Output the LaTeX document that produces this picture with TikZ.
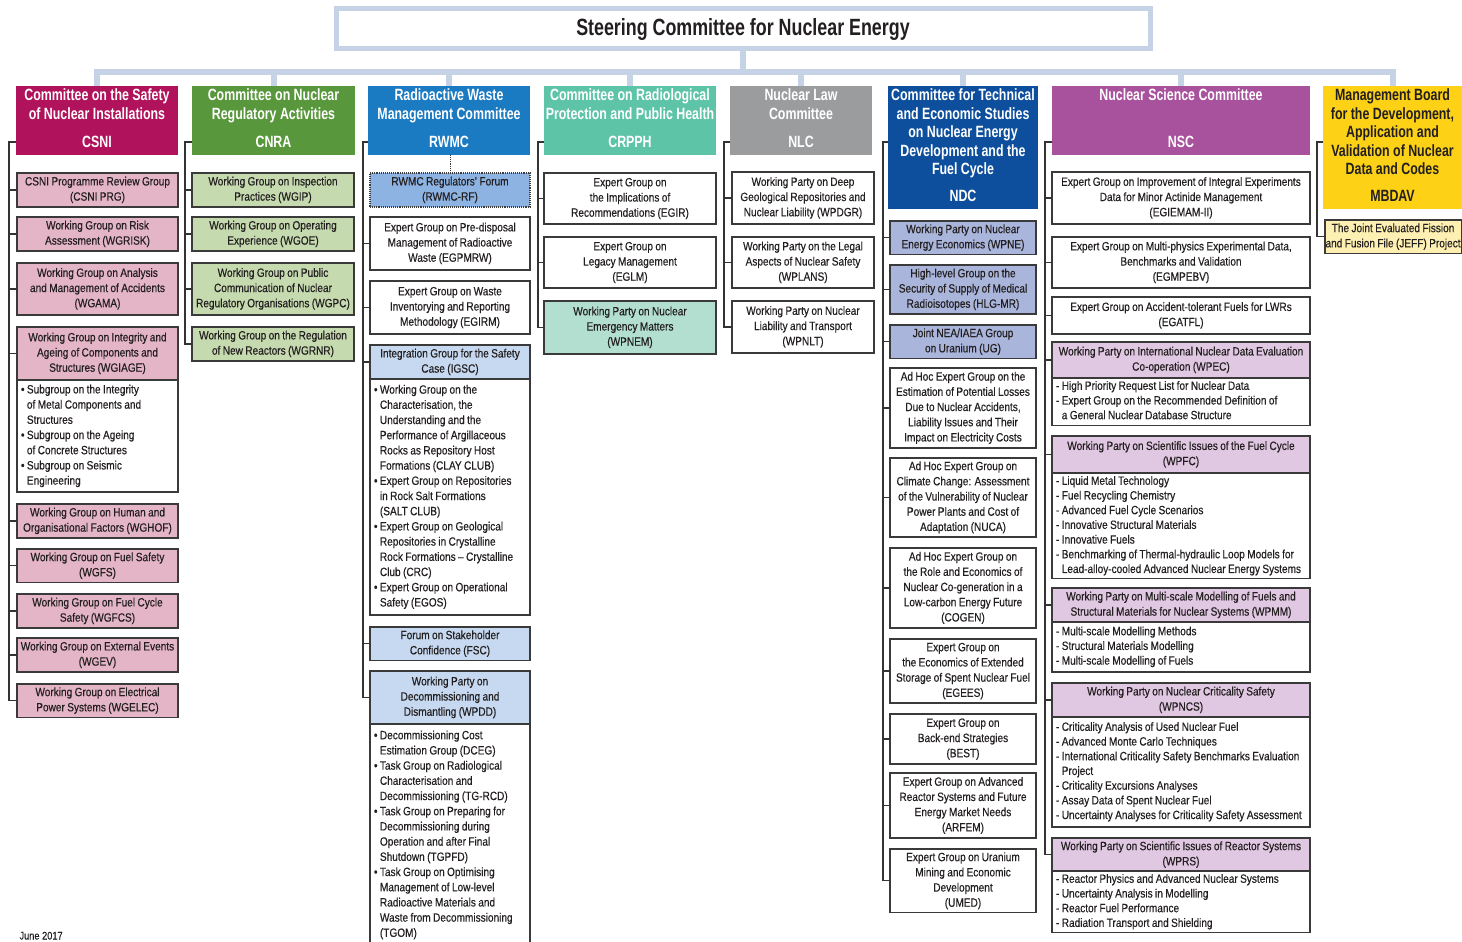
\documentclass[tikz,border=0pt]{standalone}
\usepackage{fontspec}
\setmainfont{Liberation Sans}[FakeStretch=0.84,UprightFeatures={FakeBold=0.35}]
\newfontfamily\hdfam{Liberation Sans}[FakeStretch=0.76]
\usetikzlibrary{calc}

\definecolor{ink}{HTML}{231F20}
\definecolor{boxline}{HTML}{3A3A3A}
\definecolor{connC}{HTML}{333333}
\definecolor{trunkC}{HTML}{C6D3E7}
\definecolor{csniC}{HTML}{B0135B}
\definecolor{csniL}{HTML}{E4B5C6}
\definecolor{cnraC}{HTML}{58973C}
\definecolor{cnraL}{HTML}{C6DAB0}
\definecolor{rwmcC}{HTML}{1A7AC2}
\definecolor{rwmcM}{HTML}{8DB3E2}
\definecolor{rwmcL}{HTML}{C6D9F0}
\definecolor{crpphC}{HTML}{5EC4A8}
\definecolor{crpphL}{HTML}{B3DFD1}
\definecolor{nlcC}{HTML}{9B9C9E}
\definecolor{ndcC}{HTML}{0D4F9D}
\definecolor{ndcL}{HTML}{A9B5DB}
\definecolor{nscC}{HTML}{A8519C}
\definecolor{nscL}{HTML}{E0C7E2}
\definecolor{mbC}{HTML}{FCD116}
\definecolor{mbL}{HTML}{FDF0B2}

% interword space used inside the boxes (set by each font command)
\newcommand\spk{2.4pt}
\newcommand\smtxt{\fontsize{12}{15.2}\selectfont\def\spk{2.4pt}}
\newcommand\nstxt{\fontsize{12}{14.7}\selectfont\def\spk{2.4pt}}
\newcommand\hdtxt{\hdfam\bfseries\fontsize{16.3}{18.5}\selectfont\def\spk{3.4pt}}
\newcommand\setspk{\spaceskip=\spk plus 1pt minus .5pt\relax}
\newcommand\bind{\hphantom{\textbullet\ }}
\newcommand\dind{\hphantom{-\ }}

% box: name, x1, y1, x2, y2, style, text (centred lines)
\newcommand\bx[7]{%
  \pgfmathsetmacro\bxw{#4-#2}\pgfmathsetmacro\bxh{#5-#3}%
  \node[#6, anchor=north west, minimum width=\bxw pt, minimum height=\bxh pt] (#1) at (#2,#3)
    {\setspk\begin{tabular}{@{}c@{}}#7\end{tabular}};}
% list box: name, x1, y1, x2, y2, style, lines (left aligned)
\newcommand\lx[7]{%
  \pgfmathsetmacro\bxh{#5-#3}\pgfmathsetmacro\bxt{#4-#2-8}%
  \node[#6, anchor=north west, minimum height=\bxh pt, text width=\bxt pt, inner xsep=4pt] (#1) at (#2,#3)
    {\noindent\setspk\begin{tabular}{@{}l@{}}#7\end{tabular}};}

\tikzset{
  every node/.style={inner sep=1.5pt, outer sep=0pt, text=ink},
  sub/.style={draw=boxline, line width=1.1pt, font=\smtxt},
  lst/.style={draw=boxline, line width=1.1pt, fill=white, font=\smtxt},
  nlst/.style={draw=boxline, line width=1.1pt, fill=white, font=\nstxt},
  hd/.style={font=\hdtxt, text=white},
  conn/.style={draw=connC, line width=1.1pt},
  trunk/.style={draw=trunkC, line width=6pt},
  steer/.style={draw=trunkC, line width=5pt, fill=white, minimum width=814pt, minimum height=40pt,
                font=\hdfam\bfseries\fontsize{23.5}{26}\selectfont}
}

\begin{document}
\begin{tikzpicture}[x=1pt,y=-1pt]
\path[use as bounding box, fill=white] (0,0) rectangle (1462,942);

\node[steer] (sce) at (743,29) {Steering Committee for Nuclear Energy};

% committee headers
\bx{csni}{16}{86}{178}{155}{hd,fill=csniC}{Committee on the Safety\\of Nuclear Installations\\[10pt]CSNI}
\bx{cnra}{192}{86}{355}{155}{hd,fill=cnraC}{Committee on Nuclear\\Regulatory Activities\\[10pt]CNRA}
\bx{rwmc}{368}{86}{530}{155}{hd,fill=rwmcC}{Radioactive Waste\\Management Committee\\[10pt]RWMC}
\bx{crpph}{544}{86}{716}{155}{hd,fill=crpphC}{Committee on Radiological\\Protection and Public Health\\[10pt]CRPPH}
\bx{nlc}{730}{86}{872}{155}{hd,fill=nlcC}{Nuclear Law\\Committee\\[10pt]NLC}
\bx{ndc}{888}{86}{1038}{209}{hd,fill=ndcC}{Committee for Technical\\and Economic Studies\\on Nuclear Energy\\Development and the\\Fuel Cycle\\[8pt]NDC}
\bx{nsc}{1052}{86}{1310}{155}{hd,fill=nscC}{Nuclear Science Committee\\[28pt]NSC}
\bx{mbdav}{1323}{86}{1462}{209}{hd,fill=mbC,text=ink}{Management Board\\for the Development,\\Application and\\Validation of Nuclear\\Data and Codes\\[8pt]MBDAV}

% CSNI groups
\bx{prg}{17}{173}{178}{207}{sub,fill=csniL}{CSNI Programme Review Group\\(CSNI PRG)}
\bx{wgrisk}{17}{217}{178}{251}{sub,fill=csniL}{Working Group on Risk\\Assessment (WGRISK)}
\bx{wgama}{17}{263}{178}{315}{sub,fill=csniL}{Working Group on Analysis\\and Management of Accidents\\(WGAMA)}
\bx{wgiage}{17}{327}{178}{380}{sub,fill=csniL}{Working Group on Integrity and\\Ageing of Components and\\Structures (WGIAGE)}
\lx{wgiagel}{17}{380}{178}{492}{lst}{\textbullet\ Subgroup on the Integrity\\\bind of Metal Components and\\\bind Structures\\\textbullet\ Subgroup on the Ageing\\\bind of Concrete Structures\\\textbullet\ Subgroup on Seismic\\\bind Engineering}
\bx{wghof}{17}{504}{178}{538}{sub,fill=csniL}{Working Group on Human and\\Organisational Factors (WGHOF)}
\bx{wgfs}{17}{549}{178}{582}{sub,fill=csniL}{Working Group on Fuel Safety\\(WGFS)}
\bx{wgfcs}{17}{594}{178}{628}{sub,fill=csniL}{Working Group on Fuel Cycle\\Safety (WGFCS)}
\bx{wgev}{17}{638}{178}{672}{sub,fill=csniL}{Working Group on External Events\\(WGEV)}
\bx{wgelec}{17}{684}{178}{717}{sub,fill=csniL}{Working Group on Electrical\\Power Systems (WGELEC)}

% CNRA groups
\bx{wgip}{192}{173}{354}{207}{sub,fill=cnraL}{Working Group on Inspection\\Practices (WGIP)}
\bx{wgoe}{192}{217}{354}{251}{sub,fill=cnraL}{Working Group on Operating\\Experience (WGOE)}
\bx{wgpc}{192}{263}{354}{315}{sub,fill=cnraL}{Working Group on Public\\Communication of Nuclear\\Regulatory Organisations (WGPC)}
\bx{wgrnr}{192}{327}{354}{361}{sub,fill=cnraL}{Working Group on the Regulation\\of New Reactors (WGRNR)}

% RWMC groups
\bx{rf}{370}{173}{530}{207}{sub,fill=rwmcM,densely dotted}{RWMC Regulators' Forum\\(RWMC-RF)}
\bx{egpmrw}{370}{217}{530}{270}{sub,fill=white}{Expert Group on Pre-disposal\\Management of Radioactive\\Waste (EGPMRW)}
\bx{egirm}{370}{281}{530}{334}{sub,fill=white}{Expert Group on Waste\\Inventorying and Reporting\\Methodology (EGIRM)}
\bx{igsc}{370}{345}{530}{379}{sub,fill=rwmcL}{Integration Group for the Safety\\Case (IGSC)}
\lx{igscl}{370}{379}{530}{615}{lst}{\textbullet\ Working Group on the\\\bind Characterisation, the\\\bind Understanding and the\\\bind Performance of Argillaceous\\\bind Rocks as Repository Host\\\bind Formations (CLAY CLUB)\\\textbullet\ Expert Group on Repositories\\\bind in Rock Salt Formations\\\bind (SALT CLUB)\\\textbullet\ Expert Group on Geological\\\bind Repositories in Crystalline\\\bind Rock Formations -- Crystalline\\\bind Club (CRC)\\\textbullet\ Expert Group on Operational\\\bind Safety (EGOS)}
\bx{fsc}{370}{627}{530}{660}{sub,fill=rwmcL}{Forum on Stakeholder\\Confidence (FSC)}
\bx{wpdd}{370}{671}{530}{724}{sub,fill=rwmcL}{Working Party on\\Decommissioning and\\Dismantling (WPDD)}
\lx{wpddl}{370}{724}{530}{946}{lst}{\textbullet\ Decommissioning Cost\\\bind Estimation Group (DCEG)\\\textbullet\ Task Group on Radiological\\\bind Characterisation and\\\bind Decommissioning (TG-RCD)\\\textbullet\ Task Group on Preparing for\\\bind Decommissioning during\\\bind Operation and after Final\\\bind Shutdown (TGPFD)\\\textbullet\ Task Group on Optimising\\\bind Management of Low-level\\\bind Radioactive Materials and\\\bind Waste from Decommissioning\\\bind (TGOM)}

% CRPPH groups
\bx{egir}{544}{173}{716}{224}{sub,fill=white}{Expert Group on\\the Implications of\\Recommendations (EGIR)}
\bx{eglm}{544}{237}{716}{288}{sub,fill=white}{Expert Group on\\Legacy Management\\(EGLM)}
\bx{wpnem}{544}{301}{716}{354}{sub,fill=crpphL}{Working Party on Nuclear\\Emergency Matters\\(WPNEM)}

% NLC groups
\bx{wpdgr}{732}{172}{874}{224}{sub,fill=white}{Working Party on Deep\\Geological Repositories and\\Nuclear Liability (WPDGR)}
\bx{wplans}{732}{237}{874}{288}{sub,fill=white}{Working Party on the Legal\\Aspects of Nuclear Safety\\(WPLANS)}
\bx{wpnlt}{732}{301}{874}{353}{sub,fill=white}{Working Party on Nuclear\\Liability and Transport\\(WPNLT)}

% NDC groups
\bx{wpne}{890}{221}{1036}{253}{sub,fill=ndcL}{Working Party on Nuclear\\Energy Economics (WPNE)}
\bx{hlgmr}{890}{265}{1036}{314}{sub,fill=ndcL}{High-level Group on the\\Security of Supply of Medical\\Radioisotopes (HLG-MR)}
\bx{ug}{890}{325}{1036}{356}{sub,fill=ndcL}{Joint NEA/IAEA Group\\on Uranium (UG)}
\bx{losses}{890}{368}{1036}{448}{sub,fill=white}{Ad Hoc Expert Group on the\\Estimation of Potential Losses\\Due to Nuclear Accidents,\\Liability Issues and Their\\Impact on Electricity Costs}
\bx{nuca}{890}{458}{1036}{537}{sub,fill=white}{Ad Hoc Expert Group on\\Climate Change: Assessment\\of the Vulnerability of Nuclear\\Power Plants and Cost of\\Adaptation (NUCA)}
\bx{cogen}{890}{548}{1036}{628}{sub,fill=white}{Ad Hoc Expert Group on\\the Role and Economics of\\Nuclear Co-generation in a\\Low-carbon Energy Future\\(COGEN)}
\bx{egees}{890}{639}{1036}{703}{sub,fill=white}{Expert Group on\\the Economics of Extended\\Storage of Spent Nuclear Fuel\\(EGEES)}
\bx{best}{890}{714}{1036}{764}{sub,fill=white}{Expert Group on\\Back-end Strategies\\(BEST)}
\bx{arfem}{890}{773}{1036}{838}{sub,fill=white}{Expert Group on Advanced\\Reactor Systems and Future\\Energy Market Needs\\(ARFEM)}
\bx{umed}{890}{849}{1036}{912}{sub,fill=white}{Expert Group on Uranium\\Mining and Economic\\Development\\(UMED)}

% NSC groups
\bx{egiemam}{1052}{172}{1310}{224}{sub,fill=white}{Expert Group on Improvement of Integral Experiments\\Data for Minor Actinide Management\\(EGIEMAM-II)}
\bx{egmpebv}{1052}{237}{1310}{288}{sub,fill=white}{Expert Group on Multi-physics Experimental Data,\\Benchmarks and Validation\\(EGMPEBV)}
\bx{egatfl}{1052}{297}{1310}{334}{sub,fill=white}{Expert Group on Accident-tolerant Fuels for LWRs\\(EGATFL)}
\bx{wpec}{1052}{342}{1310}{378}{sub,fill=nscL}{Working Party on International Nuclear Data Evaluation\\Co-operation (WPEC)}
\lx{wpecl}{1052}{378}{1310}{423}{nlst}{- High Priority Request List for Nuclear Data\\- Expert Group on the Recommended Definition of\\\dind a General Nuclear Database Structure}
\bx{wpfc}{1052}{436}{1310}{473}{sub,fill=nscL}{Working Party on Scientific Issues of the Fuel Cycle\\(WPFC)}
\lx{wpfcl}{1052}{473}{1310}{577}{nlst}{- Liquid Metal Technology\\- Fuel Recycling Chemistry\\- Advanced Fuel Cycle Scenarios\\- Innovative Structural Materials\\- Innovative Fuels\\- Benchmarking of Thermal-hydraulic Loop Models for\\\dind Lead-alloy-cooled Advanced Nuclear Energy Systems}
\bx{wpmm}{1052}{588}{1310}{622}{sub,fill=nscL}{Working Party on Multi-scale Modelling of Fuels and\\Structural Materials for Nuclear Systems (WPMM)}
\lx{wpmml}{1052}{622}{1310}{672}{nlst}{- Multi-scale Modelling Methods\\- Structural Materials Modelling\\- Multi-scale Modelling of Fuels}
\bx{wpncs}{1052}{683}{1310}{717}{sub,fill=nscL}{Working Party on Nuclear Criticality Safety\\(WPNCS)}
\lx{wpncsl}{1052}{717}{1310}{827}{nlst}{- Criticality Analysis of Used Nuclear Fuel\\- Advanced Monte Carlo Techniques\\- International Criticality Safety Benchmarks Evaluation\\\dind Project\\- Criticality Excursions Analyses\\- Assay Data of Spent Nuclear Fuel\\- Uncertainty Analyses for Criticality Safety Assessment}
\bx{wprs}{1052}{838}{1310}{871}{sub,fill=nscL}{Working Party on Scientific Issues of Reactor Systems\\(WPRS)}
\lx{wprsl}{1052}{871}{1310}{932}{nlst}{- Reactor Physics and Advanced Nuclear Systems\\- Uncertainty Analysis in Modelling\\- Reactor Fuel Performance\\- Radiation Transport and Shielding}

% MBDAV project
\bx{jeff}{1325}{220}{1460}{253}{sub,fill=mbL,inner xsep=0.5pt}{The Joint Evaluated Fission\\and Fusion File (JEFF) Project}

% light-blue trunk from the steering committee to the committees
\coordinate (bus) at ($(sce.south)+(0,23)$);
\draw[trunk] (sce.south) -- (bus);
\foreach \h in {csni,cnra,rwmc,crpph,nlc,ndc,nsc,mbdav}
  \draw[trunk] (\h.north) -- (\h.north |- bus) -- (bus);

% tree connectors inside each committee
\foreach \k in {prg,wgrisk,wgama,wgiage,wghof,wgfs,wgfcs,wgev,wgelec}
  \draw[conn] ($(csni.north west)+(0,56)$) -- ++(-7,0) |- (\k.west);
\foreach \k in {wgip,wgoe,wgpc,wgrnr}
  \draw[conn] ($(cnra.north west)+(0,56)$) -- ++(-7,0) |- (\k.west);
\foreach \k in {egpmrw,egirm,igsc,fsc,wpdd}
  \draw[conn] ($(rwmc.north west)+(0,56)$) -- ++(-5,0) |- (\k.west);
\draw[conn, densely dotted, line width=0.8pt] (rwmc.south -| rf.north) -- (rf.north);
\foreach \k in {egir,eglm,wpnem}
  \draw[conn] ($(crpph.north west)+(0,56)$) -- ++(-6,0) |- (\k.west);
\foreach \k in {wpdgr,wplans,wpnlt}
  \draw[conn] ($(nlc.north west)+(0,56)$) -- ++(-6,0) |- (\k.west);
\foreach \k in {wpne,hlgmr,ug,losses,nuca,cogen,egees,best,arfem,umed}
  \draw[conn] ($(ndc.north west)+(0,56)$) -- ++(-5,0) |- (\k.west);
\foreach \k in {egiemam,egmpebv,egatfl,wpec,wpfc,wpmm,wpncs,wprs}
  \draw[conn] ($(nsc.north west)+(0,56)$) -- ++(-7,0) |- (\k.west);
\draw[conn] ($(mbdav.north west)+(0,56)$) -- ++(-6,0) |- (jeff.west);

\node[anchor=base west, font=\fontsize{11}{13}\selectfont] (date) at (18,939.5) {June 2017};
\end{tikzpicture}
\end{document}
